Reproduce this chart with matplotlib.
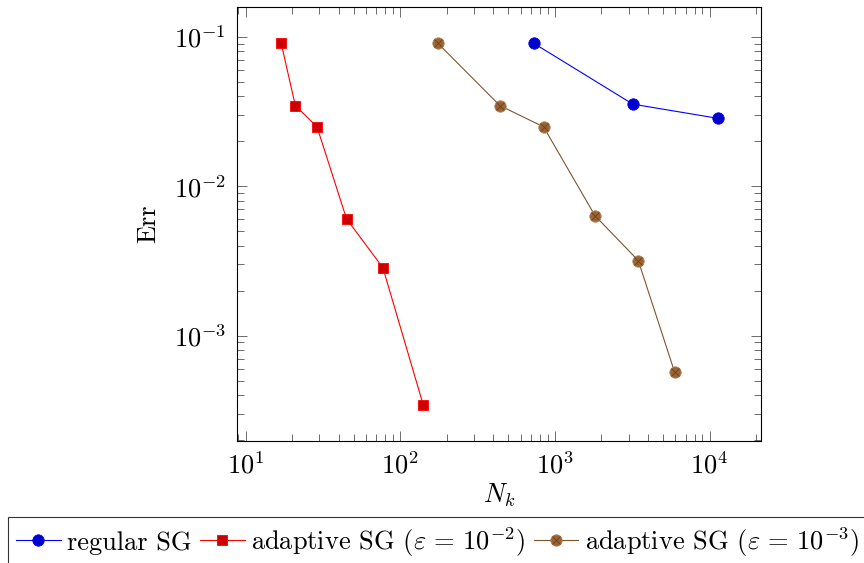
import matplotlib
matplotlib.use("Agg")
import matplotlib.pyplot as plt
from matplotlib.ticker import LogLocator, FuncFormatter, NullFormatter
import numpy as np

# ---- data ----
reg_N = [729, 3190, 11350]
reg_err = [0.0908, 0.0355, 0.0285]

ad2_N = [17.0, 21.0, 29.0, 45.0, 77.3, 141]
ad2_err = [0.0908, 0.0347, 0.0250, 0.00605, 0.00285, 0.000343]

ad3_N = [175, 441, 845, 1820, 3460, 5940]
ad3_err = [0.0908, 0.0347, 0.0250, 0.00634, 0.00318, 0.000571]

labels = ["regular SG",
          r"adaptive SG ($\varepsilon\,=\,10^{-2}$)",
          r"adaptive SG ($\varepsilon\,=\,10^{-3}$)"]

plt.rcParams['font.family'] = ['cmr10', 'DejaVu Serif']
plt.rcParams['mathtext.fontset'] = 'cm'
plt.rcParams['axes.unicode_minus'] = False
FS = 19

fig = plt.figure(figsize=(8.64, 5.63), dpi=100)
ax = fig.add_axes([237.3/864, 1-441/563, (761-237.3)/864, (441-7.3)/563])

blue_line = '#0000FF'
red_line = '#FF0000'
brown_line = '#7F5530'

h1, = ax.plot(reg_N, reg_err, color=blue_line, lw=0.8, marker='o', ms=8.2,
              mfc='#0000CC', mec=blue_line, mew=0.6)
h2, = ax.plot(ad2_N, ad2_err, color=red_line, lw=0.8, marker='s', ms=7.6,
              mfc='#CC0000', mec=red_line, mew=0.6)
h3, = ax.plot(ad3_N, ad3_err, color=brown_line, lw=0.8, marker='o', ms=8.2,
              mfc='#9A6433', mec='#B08560', mew=0.6)
h3x, = ax.plot(ad3_N, ad3_err, ls='none', marker='x', ms=5.2,
               mec='#6A4020', mew=0.6)

ax.set_xscale('log')
ax.set_yscale('log')
ax.set_xlim(8.85, 21500)
ax.set_ylim(1.97e-4, 0.158)

fmt = FuncFormatter(lambda v, p: r"$10^{%d}$" % int(round(np.log10(v))))
ax.xaxis.set_major_locator(LogLocator(base=10, numticks=20))
ax.yaxis.set_major_locator(LogLocator(base=10, numticks=20))
ax.xaxis.set_minor_locator(LogLocator(base=10, subs=np.arange(2, 10), numticks=100))
ax.yaxis.set_minor_locator(LogLocator(base=10, subs=np.arange(2, 10), numticks=100))
ax.xaxis.set_major_formatter(fmt)
ax.yaxis.set_major_formatter(fmt)
ax.xaxis.set_minor_formatter(NullFormatter())
ax.yaxis.set_minor_formatter(NullFormatter())

ax.tick_params(which='both', direction='in', top=True, right=True,
               color='#555555', width=0.6, labelsize=FS)
ax.tick_params(which='major', length=7.2, pad=8)
ax.tick_params(which='minor', length=4.8)
for s in ax.spines.values():
    s.set_linewidth(0.8)

ax.set_xlabel(r"$N_k$", fontsize=FS, labelpad=2)
ax.set_ylabel("Err", fontsize=FS, labelpad=10)

leg = fig.legend([h1, h2, (h3, h3x)], labels, loc='upper left',
                 bbox_to_anchor=(8/864, 1-517/563), ncol=3, fontsize=FS,
                 frameon=True, fancybox=False, edgecolor='black',
                 handlelength=1.7, handletextpad=0.25, columnspacing=0.3,
                 borderpad=0.3, borderaxespad=0)
leg.get_frame().set_linewidth(0.8)

fig.savefig("out.png", dpi=100)
